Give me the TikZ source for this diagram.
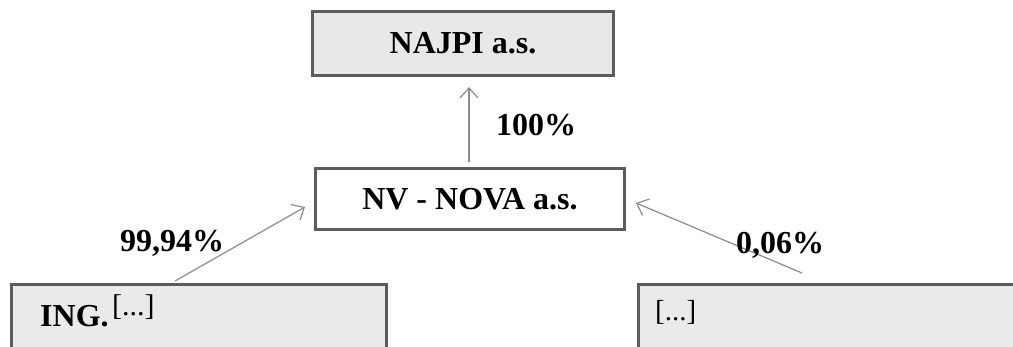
\documentclass[tikz,border=0pt]{standalone}
\usepackage{fontspec}
\setmainfont{Liberation Serif}
\usetikzlibrary{arrows.meta}
\definecolor{boxline}{HTML}{5C5C5C}
\definecolor{boxfill}{HTML}{E8E8E8}
\definecolor{arrowgray}{HTML}{8C8C8C}
\begin{document}
\begin{tikzpicture}[x=1pt,y=-1pt,
  entity/.style={draw=boxline,line width=3pt,inner sep=0pt,rectangle,font=\fontsize{32}{36}\selectfont\bfseries},
  pct/.style={inner sep=0pt,font=\fontsize{32}{36}\selectfont\bfseries},
  share/.style={draw=arrowgray,line width=1.2pt,-{Straight Barb[length=10pt,width=18pt,line width=1.2pt]}}]
\useasboundingbox (0,0) rectangle (1013,347);
\fill[white] (0,0) rectangle (1013,347);
% boxes
\node[entity,fill=boxfill,minimum width=301pt,minimum height=64pt] (najpi) at (463,43.5) {NAJPI a.s.};
\node[entity,fill=white,minimum width=309pt,minimum height=61pt] (nova) at (470,199) {NV - NOVA a.s.};
\node[entity,fill=boxfill!90!white,minimum width=375pt,minimum height=120pt] (ing) at (199,344.5) {};
\node[entity,fill=boxfill!90!white,minimum width=450pt,minimum height=120pt] (other) at (863.5,344.5) {};
% texts inside the cut boxes
\node[anchor=base west,inner sep=0pt,font=\fontsize{32}{36}\selectfont\bfseries] (ingname) at (40,327) {ING.};
\node[anchor=base west,inner sep=0pt,font=\fontsize{30}{34}\selectfont] (ingdots) at (112,316) {[...]};
\node[anchor=base west,inner sep=0pt,font=\fontsize{29}{33}\selectfont] (otherdots) at (655,321) {[...]};
% connectors
\coordinate (novaout) at (469,162);
\coordinate (najpiin) at (469,87);
\coordinate (ingout) at (175,281);
\coordinate (ingin) at (305,207);
\coordinate (otherout) at (802,273);
\coordinate (otherin) at (636,203);
\draw[share] (novaout) -- (najpiin);
\draw[share] (ingout) -- (ingin);
\draw[share] (otherout) -- (otherin);
% labels
\node[pct] (l100) at (536,125) {100\%};
\node[pct] (l9994) at (172,243) {99,94\%};
\node[pct] (l006) at (780,245) {0,06\%};
\end{tikzpicture}
\end{document}
